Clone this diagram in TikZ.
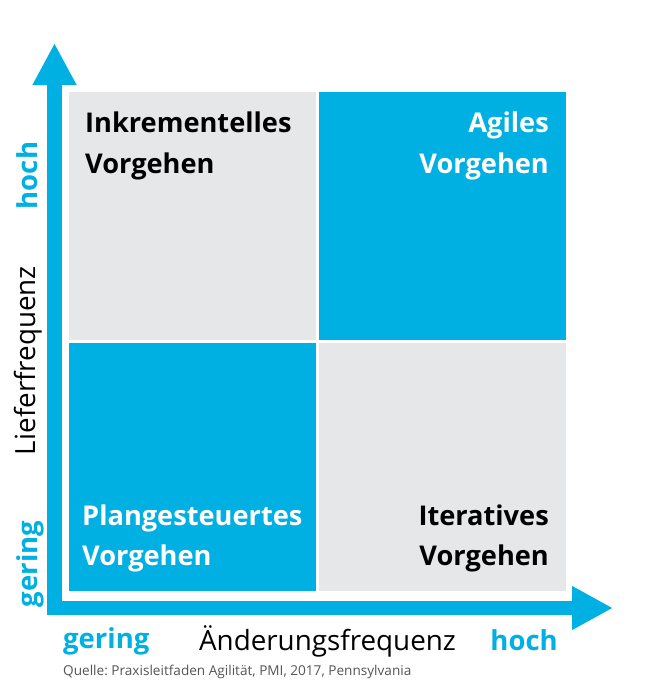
\documentclass[tikz,border=0pt]{standalone}
\usepackage{fontspec}
\setmainfont{Open Sans}
\usetikzlibrary{arrows.meta}
\definecolor{axblue}{RGB}{0,176,226}
\definecolor{qgray}{RGB}{230,231,233}
\definecolor{srcgray}{RGB}{85,85,85}
\tikzset{
  quad/.style={minimum width=247pt, minimum height=248pt, inner sep=0pt, draw=none},
  qtext/.style={font=\bfseries\fontsize{27.2}{32}\selectfont, inner sep=0pt},
  bluelbl/.style={font=\bfseries\fontsize{27.5}{32}\selectfont, text=axblue, inner sep=0pt},
  axislbl/.style={font=\fontsize{27.8}{32}\selectfont, inner sep=0pt},
  axisline/.style={draw=axblue, line width=14.5pt, line join=miter,
    {Triangle[length=42pt,width=41pt]}-{Triangle[length=41pt,width=41pt]}}
}
\begin{document}
\frenchspacing
\begin{tikzpicture}[x=1pt,y=-1pt]
\useasboundingbox (0,0) rectangle (656,691);
% quadrants
\node[quad, fill=qgray]  (q1) at (192.5,216) {};
\node[quad, fill=axblue] (q2) at (442.5,216) {};
\node[quad, fill=axblue] (q3) at (192.5,466.5) {};
\node[quad, fill=qgray]  (q4) at (442.5,466.5) {};
% axes
\coordinate (ytip) at (54.5,43);
\coordinate (corner) at (54.5,608);
\coordinate (xtip) at (613,608);
\draw[axisline] (ytip) -- (corner) -- (xtip);
% quadrant texts
\node[qtext, anchor=base west] (t1a) at (85,132) {Inkrementelles};
\node[qtext, anchor=base west] (t1b) at (85,173) {Vorgehen};
\node[qtext, anchor=base east, text=white] (t2a) at (549,132) {Agiles};
\node[qtext, anchor=base east, text=white] (t2b) at (549,173) {Vorgehen};
\node[qtext, anchor=base west, text=white] (t3a) at (82,525) {Plangesteuertes};
\node[qtext, anchor=base west, text=white] (t3b) at (82,565) {Vorgehen};
\node[qtext, anchor=base east] (t4a) at (549,525) {Iteratives};
\node[qtext, anchor=base east] (t4b) at (549,565) {Vorgehen};
% axis labels
\node[bluelbl, rotate=90, anchor=base] (yhoch) at (37,175.5) {hoch};
\node[bluelbl, rotate=90, anchor=base] (ygering) at (37,564) {gering};
\node[axislbl, rotate=90, anchor=base] (ylab) at (35.5,360.5) {Lieferfrequenz};
\node[bluelbl, anchor=base west] (xgering) at (63,648) {gering};
\node[axislbl, anchor=base] (xlab) at (327.5,650) {Änderungsfrequenz};
\node[bluelbl, anchor=base east] (xhoch) at (558,650) {hoch};
\node[font=\fontsize{13.6}{16}\selectfont, text=srcgray, inner sep=0pt, anchor=base west] (src) at (63,675) {Quelle: Praxisleitfaden Agilität, PMI, 2017, Pennsylvania};
\end{tikzpicture}
\end{document}
